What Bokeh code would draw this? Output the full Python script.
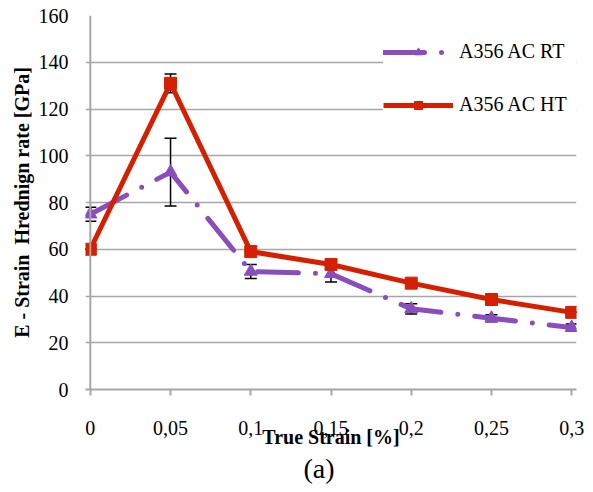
from bokeh.plotting import figure
from bokeh.models import (ColumnDataSource, Whisker, TeeHead, Legend, LegendItem,
                          FixedTicker, Span, Range1d, Title)
from bokeh.embed import file_html
from bokeh.resources import INLINE

# True strain [%] and E - strain hardening rate [GPa]
strain = [0.0, 0.05, 0.10, 0.15, 0.20, 0.25, 0.30]
rt_rate = [75.0, 93.0, 50.5, 49.5, 34.5, 30.5, 26.5]
rt_err = [3.0, 14.5, 3.0, 3.5, 2.2, 1.5, 1.5]
ht_rate = [60.0, 131.0, 59.0, 53.5, 45.5, 38.5, 33.0]
ht_err = [0.0, 4.0, 0.0, 0.0, 0.0, 0.0, 0.0]

x_ticks = [0.0, 0.05, 0.10, 0.15, 0.20, 0.25, 0.30]
x_tick_labels = ["0", "0,05", "0,1", "0,15", "0,2", "0,25", "0,3"]
y_ticks = [0, 20, 40, 60, 80, 100, 120, 140, 160]

series_names = ["A356 AC RT", "A356 AC HT"]
x_title = "True Strain [%]"
y_title = "E - Strain \u00a0Hrednign rate [GPa]"
panel_tag = "(a)"

RED = "#D42000"
PURPLE = "#8A4DBE"
GRID = "#A6A6A6"
FONT = "Liberation Serif"

p = figure(width=593, height=492, output_backend="svg", toolbar_location=None,
           x_range=Range1d(-0.003, 0.303), y_range=Range1d(0, 160),
           min_border_left=85, min_border_right=17, min_border_top=15,
           min_border_bottom=103)
p.outline_line_color = None
p.background_fill_color = "white"

# axes
p.xaxis.ticker = FixedTicker(ticks=x_ticks)
p.xaxis.major_label_overrides = {t: s for t, s in zip(x_ticks, x_tick_labels)}
p.yaxis.ticker = FixedTicker(ticks=y_ticks)
for ax in (p.xaxis, p.yaxis):
    ax.major_label_text_font = FONT
    ax.major_label_text_font_size = "20px"
    ax.major_label_text_color = "black"
    ax.minor_tick_line_color = None
    ax.major_tick_in = 0
    ax.axis_label_text_font = FONT
    ax.axis_label_text_font_size = "20px"
    ax.axis_label_text_font_style = "bold"
    ax.axis_label_text_color = "black"

p.xaxis.axis_line_color = GRID
p.xaxis.axis_line_width = 2
p.xaxis.major_tick_line_color = GRID
p.xaxis.major_tick_line_width = 2
p.xaxis.major_tick_out = 6
p.xaxis.major_label_standoff = 25
# the x title overlaps the tick label row
p.xaxis.axis_label = x_title
p.xaxis.axis_label_standoff = -12

p.yaxis.axis_line_color = None
p.yaxis.major_tick_line_color = None
p.yaxis.major_tick_out = 0
p.yaxis.major_label_standoff = 17
p.yaxis.axis_label = y_title
p.yaxis.axis_label_standoff = 3

p.xgrid.grid_line_color = None
p.ygrid.grid_line_color = GRID
p.ygrid.grid_line_width = 1.6

# vertical axis line at zero strain
p.add_layout(Span(location=0, dimension="height", line_color=GRID, line_width=2))

rt_src = ColumnDataSource(dict(x=strain, y=rt_rate,
                               lo=[v - e for v, e in zip(rt_rate, rt_err)],
                               hi=[v + e for v, e in zip(rt_rate, rt_err)]))
ht_src = ColumnDataSource(dict(x=strain, y=ht_rate,
                               lo=[v - e for v, e in zip(ht_rate, ht_err)],
                               hi=[v + e for v, e in zip(ht_rate, ht_err)]))

# RT series: long dash-dot line with triangles
rt_line = p.line("x", "y", source=rt_src, line_color=PURPLE, line_width=5,
                 line_dash="41 17 0 17", line_cap="round")
rt_mark = p.scatter("x", "y", source=rt_src, marker="triangle", size=13,
                    fill_color=PURPLE, line_color=PURPLE)

# error bars
for src in (rt_src, ht_src):
    w = Whisker(source=src, base="x", upper="hi", lower="lo",
                line_color="black", line_width=1.5,
                upper_head=TeeHead(size=12, line_color="black", line_width=1.5),
                lower_head=TeeHead(size=12, line_color="black", line_width=1.5))
    p.add_layout(w)

# HT series: solid line with squares
ht_line = p.line("x", "y", source=ht_src, line_color=RED, line_width=5,
                 line_join="round")
ht_mark = p.scatter("x", "y", source=ht_src, marker="square", size=12,
                    fill_color=RED, line_color=RED)

legend = Legend(items=[LegendItem(label=series_names[0], renderers=[rt_line, rt_mark]),
                       LegendItem(label=series_names[1], renderers=[ht_line, ht_mark])],
                location=(298, 273), padding=23, spacing=30, glyph_width=70,
                glyph_height=20, label_height=20, label_width=124,
                label_standoff=6,
                label_text_font=FONT, label_text_font_size="20px",
                label_text_color="black", border_line_color=None,
                background_fill_color="white", background_fill_alpha=1.0)
p.add_layout(legend)

# panel tag under the axis
p.add_layout(Title(text=panel_tag, align="left", offset=218, text_font=FONT,
                   text_font_size="28px", text_font_style="normal",
                   text_color="black", standoff=0), "below")

open("out.html", "w").write(file_html(p, INLINE))
